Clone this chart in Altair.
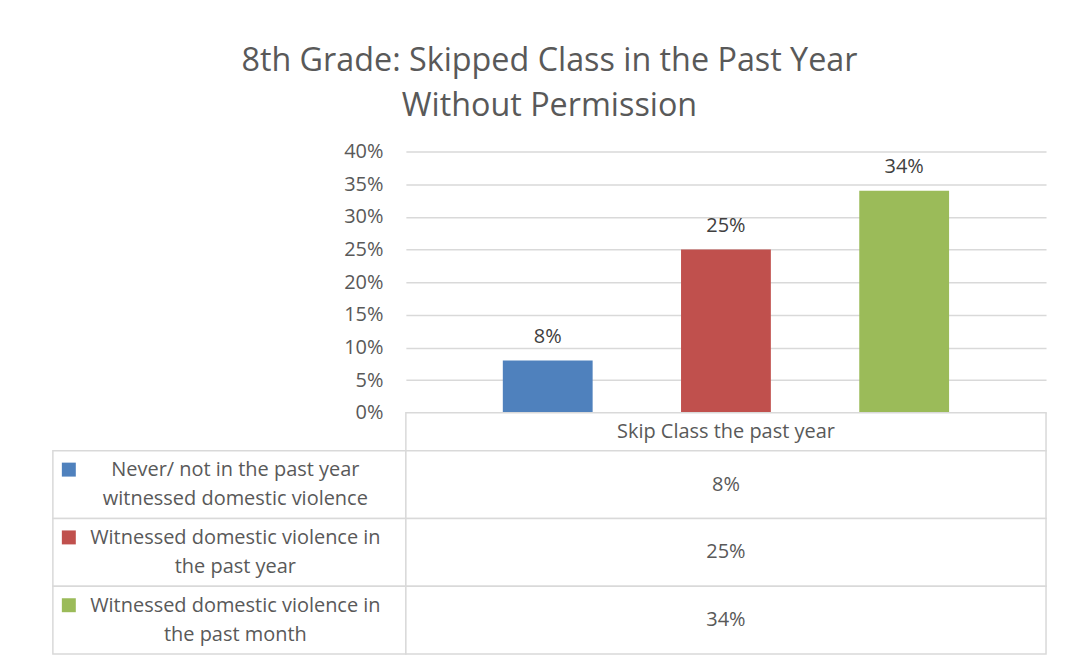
import altair as alt
import pandas as pd

# ---- data ----
title_lines = ["8th Grade: Skipped Class in the Past Year", "Without Permission"]
category = "Skip Class the past year"
series = [
    "Never/ not in the past year witnessed domestic violence",
    "Witnessed domestic  violence in the past year",
    "Witnessed domestic  violence in the past month",
]
series_wrapped = [
    "Never/ not in the past year|witnessed domestic violence",
    "Witnessed domestic  violence in|the past year",
    "Witnessed domestic  violence in|the past month",
]
values = [0.08, 0.25, 0.34]
colors = ["#4F81BD", "#C0504D", "#9BBB59"]
y_ticks = [0.0, 0.05, 0.10, 0.15, 0.20, 0.25, 0.30, 0.35, 0.40]

FONT = "Open Sans"
FS = 20
TXT = "#595959"
GRID = "#D9D9D9"

df = pd.DataFrame({
    "series": series,
    "wrapped": series_wrapped,
    "value": values,
    "category": [category] * len(series),
    "legendcol": ["legend"] * len(series),
})
df["label"] = [f"{round(v * 100)}%" for v in values]
header_df = pd.DataFrame({"category": [category]})

color_scale = alt.Scale(domain=series, range=colors)
band0 = alt.Scale(paddingInner=0, paddingOuter=0)

# ---- bar chart ----
base = alt.Chart(df).encode(
    x=alt.X("series:N", sort=series, axis=None,
            scale=alt.Scale(paddingInner=0.496, paddingOuter=0.544)),
    y=alt.Y("value:Q", scale=alt.Scale(domain=[0, 0.4], nice=False),
            axis=alt.Axis(values=y_ticks, format=".0%", title=None, domain=False,
                          ticks=False, labelPadding=23, labelFontSize=FS,
                          labelFont=FONT, labelColor=TXT, gridColor=GRID,
                          gridWidth=1.5)),
)
bars = base.mark_bar().encode(color=alt.Color("series:N", scale=color_scale, legend=None))
bar_labels = base.mark_text(baseline="alphabetic", dy=-18, fontSize=FS, font=FONT,
                            color="#404040").encode(text="label:N")
bar_chart = alt.layer(bars, bar_labels).properties(width=642, height=262)

# ---- table header ----
hx = alt.X("category:N", axis=None, scale=band0)
header_rect = alt.Chart(header_df).mark_rect(fill="white", stroke=GRID, strokeWidth=1.5).encode(x=hx)
header_text = alt.Chart(header_df).mark_text(fontSize=FS, font=FONT, color=TXT,
                                             baseline="middle").encode(x=hx, text="category:N")
header_chart = alt.layer(header_rect, header_text).properties(width=642, height=38)

# ---- table body: legend column ----
ly = alt.Y("series:N", sort=series, axis=None, scale=band0)
lx = alt.X("legendcol:N", axis=None, scale=band0)
leg_rect = alt.Chart(df).mark_rect(fill="white", stroke=GRID, strokeWidth=1.5).encode(x=lx, y=ly)
leg_key = alt.Chart(df).mark_square(size=196, opacity=1, xOffset=16, yOffset=19).encode(
    x=alt.X("legendcol:N", axis=None, scale=band0, bandPosition=0),
    y=alt.Y("series:N", sort=series, axis=None, scale=band0, bandPosition=0),
    color=alt.Color("series:N", scale=color_scale, legend=None),
)
leg_text = alt.Chart(df).mark_text(lineBreak="|", lineHeight=29, fontSize=FS, font=FONT,
                                   color=TXT, align="center", baseline="middle",
                                   xOffset=6, dy=-14.5).encode(x=lx, y=ly, text="wrapped:N")
legend_col = alt.layer(leg_rect, leg_key, leg_text).properties(width=354, height=204)

# ---- table body: values column ----
vx = alt.X("category:N", axis=None, scale=band0)
val_rect = alt.Chart(df).mark_rect(fill="white", stroke=GRID, strokeWidth=1.5).encode(x=vx, y=ly)
val_text = alt.Chart(df).mark_text(fontSize=FS, font=FONT, color=TXT,
                                   baseline="middle").encode(x=vx, y=ly, text="label:N")
value_col = alt.layer(val_rect, val_text).properties(width=642, height=204)

# ---- spacers for the left column of the upper rows ----
spacer1 = alt.Chart(header_df).mark_text(text="").encode(x=alt.value(0)).properties(width=354, height=262)
spacer2 = alt.Chart(header_df).mark_text(text="").encode(x=alt.value(0)).properties(width=354, height=38)

chart = alt.concat(
    spacer1, bar_chart,
    spacer2, header_chart,
    legend_col, value_col,
    columns=2,
).properties(
    spacing=0,
    bounds="flush",
    padding={"left": 44, "top": 36, "right": 10, "bottom": 5},
    title=alt.TitleParams(text=title_lines, fontSize=32.4, font=FONT, fontWeight="normal",
                          color=TXT, anchor="middle", lineHeight=45, offset=19),
).configure_view(stroke=None)

chart.save("out.html", embed_options={"renderer": "svg", "actions": False})
